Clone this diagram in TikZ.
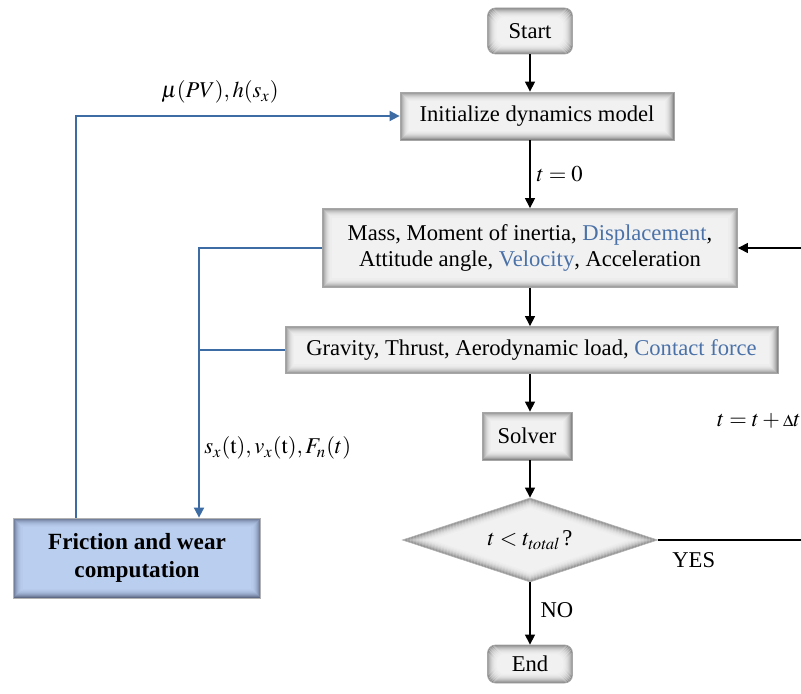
\documentclass[tikz,border=0pt]{standalone}
\usepackage{mathptmx}
\usepackage{fontspec}
\setmainfont{Liberation Serif}
\usepackage{tikz}
\usetikzlibrary{shapes.geometric, positioning, arrows.meta}
\definecolor{FeedBlue}{HTML}{3D6BA3}
\definecolor{WordBlue}{HTML}{4B72A8}
\definecolor{BoxLight}{HTML}{F1F1F1}
\definecolor{BoxDark}{HTML}{6E6E6E}
\definecolor{FricLight}{HTML}{BACEF0}
\definecolor{FricDark}{HTML}{47516B}

\tikzset{
  glow/.style 2 args={fill=#2, path picture={
    \foreach \k/\c in {0.25/80,0.75/62,1.25/47,1.75/35,2.25/25,2.75/17,3.25/11,3.75/6,4.25/3}{
      \draw[#1!\c!#2, line width=0.55pt]
        ([shift={(\k pt,-\k pt)}]path picture bounding box.north west) rectangle
        ([shift={(-\k pt,\k pt)}]path picture bounding box.south east);}}},
  diaglow/.style={fill=BoxLight, path picture={
    \foreach \k/\c in {0.25/80,0.75/62,1.25/47,1.75/35,2.25/25,2.75/17,3.25/11,3.75/6,4.25/3}{
      \draw[BoxDark!\c!BoxLight, line width=0.55pt]
        ([xshift=3.2*\k pt]path picture bounding box.west) --
        ([yshift=-1.05*\k pt]path picture bounding box.north) --
        ([xshift=-3.2*\k pt]path picture bounding box.east) --
        ([yshift=1.05*\k pt]path picture bounding box.south) -- cycle;}}},
  stepbox/.style={draw=gray!70, glow={BoxDark}{BoxLight}, align=center, inner sep=0pt},
  roundbox/.style={stepbox, rounded corners=4pt},
  decide/.style={diamond, aspect=3, draw=gray!60, diaglow, inner sep=0pt},
  fricbox/.style={draw=gray!60, glow={FricDark}{FricLight}, align=center, inner sep=0pt,
    font=\bfseries\fontsize{11.6}{14}\selectfont},
  flow/.style={-{Triangle[width=5pt,length=5pt]}, line width=0.6pt, black},
  feed/.style={line width=0.9pt, FeedBlue},
  feedarrow/.style={feed, -{Triangle[width=5pt,length=5pt]}},
  lbl/.style={inner sep=1pt}
}

\begin{document}
\begin{tikzpicture}[x=0.5pt, y=-0.5pt, font=\fontsize{11.3}{13.4}\selectfont]
  \useasboundingbox (0,0) rectangle (801,694);
  \clip (0,0) rectangle (801,694);

  % main column
  \node[roundbox, minimum width=42.5pt, minimum height=23pt] (start) at (530,31) {Start};
  \node[stepbox, minimum width=137pt, minimum height=24pt] (init) at (537,116) {Initialize dynamics model};
  \node[stepbox, minimum width=207.5pt, minimum height=39.5pt] (mass) at (530,248)
    {Mass, Moment of inertia, \textcolor{WordBlue}{Displacement},\\
     Attitude angle, \textcolor{WordBlue}{Velocity}, Acceleration};
  \node[stepbox, minimum width=246.5pt, minimum height=23.5pt] (grav) at (531.5,350)
    {Gravity, Thrust, Aerodynamic load, \textcolor{WordBlue}{Contact force}};
  \node[stepbox, minimum width=45pt, minimum height=24pt] (solver) at (527,436) {Solver};
  \node[decide, minimum width=127.5pt, minimum height=42pt] (check) at (530,540) {$t<t_{\mathit{total}}\,$?};
  \node[roundbox, minimum width=42.5pt, minimum height=19pt] (end) at (530,664) {End};

  % friction model
  \node[fricbox, minimum width=123.5pt, minimum height=40pt] (fric) at (137,558)
    {Friction and wear\\computation};

  \draw[flow] (start.south) -- (start.south |- init.north);
  \draw[flow] (start.south |- init.south) -- (start.south |- mass.north)
    node[lbl, midway, right=2pt] {$t=0$};
  \draw[flow] (mass.south) -- (mass.south |- grav.north);
  \draw[flow] (mass.south |- grav.south) -- (mass.south |- solver.north);
  \draw[flow] (mass.south |- solver.south) -- (check.north);
  \draw[flow] (check.south) -- (end.north)
    node[lbl, pos=0.45, right=4pt] {NO};

  % time loop
  \coordinate (loopR) at (830,540);
  \draw[line width=0.6pt] (check.east) -- (loopR);
  \draw[flow] (loopR) |- (mass.east);
  \node[lbl, anchor=north west] (yes) at (670,550) {YES};
  \node[lbl, anchor=east] (step) at (803,421) {$t=t+{\scriptstyle\Delta}t$};

  % coupling with friction
  \coordinate (tap) at (199,248);
  \coordinate (back) at (76,518);
  \draw[feedarrow] (mass.west) -- (tap) -- (tap |- fric.north);
  \draw[feed] (grav.west) -- (grav.west -| tap);
  \draw[feedarrow] (back) |- (init.west);
  \node[lbl, anchor=west] (out) at (202,448) {$s_x(\mathrm{t}), v_x(\mathrm{t}), F_n(t)$};
  \node[lbl] (in) at (220,92) {$\mu(PV), h(s_x)$};
\end{tikzpicture}
\end{document}
